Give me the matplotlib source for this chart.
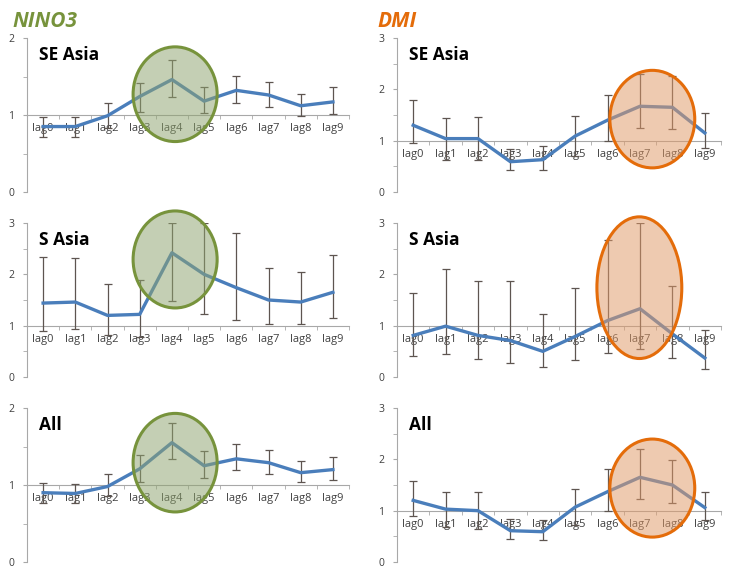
#!/usr/bin/env python3
import numpy as np
import matplotlib
matplotlib.use("Agg")
import matplotlib.pyplot as plt
from matplotlib.patches import Ellipse

lags = ["lag0", "lag1", "lag2", "lag3", "lag4", "lag5", "lag6", "lag7", "lag8", "lag9"]

# NINO3 composites: mean, upper end, lower end of error bar
nino_se_mean = [0.85, 0.85, 0.99, 1.24, 1.46, 1.18, 1.32, 1.26, 1.12, 1.17]
nino_se_hi   = [0.98, 0.98, 1.15, 1.42, 1.71, 1.37, 1.51, 1.43, 1.27, 1.36]
nino_se_lo   = [0.72, 0.72, 0.83, 1.04, 1.24, 1.03, 1.16, 1.10, 0.99, 1.01]

nino_s_mean = [1.44, 1.46, 1.20, 1.22, 2.42, 2.00, 1.74, 1.50, 1.46, 1.65]
nino_s_hi   = [2.34, 2.31, 1.81, 1.89, 3.00, 3.00, 2.80, 2.13, 2.04, 2.37]
nino_s_lo   = [0.89, 0.93, 0.81, 0.78, 1.48, 1.23, 1.12, 1.04, 1.04, 1.15]

nino_all_mean = [0.90, 0.89, 0.98, 1.21, 1.55, 1.25, 1.34, 1.29, 1.16, 1.20]
nino_all_hi   = [1.03, 1.01, 1.14, 1.39, 1.80, 1.44, 1.53, 1.45, 1.31, 1.37]
nino_all_lo   = [0.77, 0.77, 0.86, 1.04, 1.34, 1.09, 1.19, 1.14, 1.04, 1.06]

# DMI composites
dmi_se_mean = [1.30, 1.04, 1.04, 0.59, 0.63, 1.09, 1.40, 1.67, 1.65, 1.15]
dmi_se_hi   = [1.79, 1.45, 1.46, 0.84, 0.89, 1.48, 1.89, 2.30, 2.26, 1.53]
dmi_se_lo   = [0.96, 0.63, 0.62, 0.42, 0.43, 0.70, 0.99, 1.24, 1.22, 0.86]

dmi_s_mean = [0.81, 0.99, 0.81, 0.71, 0.50, 0.79, 1.10, 1.33, 0.84, 0.37]
dmi_s_hi   = [1.63, 2.10, 1.87, 1.87, 1.22, 1.74, 2.67, 3.00, 1.78, 0.92]
dmi_s_lo   = [0.40, 0.45, 0.35, 0.27, 0.20, 0.33, 0.47, 0.55, 0.37, 0.16]

dmi_all_mean = [1.20, 1.03, 1.00, 0.61, 0.59, 1.07, 1.37, 1.65, 1.50, 1.06]
dmi_all_hi   = [1.58, 1.37, 1.37, 0.84, 0.81, 1.42, 1.81, 2.20, 1.99, 1.37]
dmi_all_lo   = [0.90, 0.68, 0.64, 0.44, 0.43, 0.72, 1.00, 1.23, 1.14, 0.82]

GREEN_EDGE = "#77933C"
GREEN_FILL = "#8FA46F"
ORANGE_EDGE = "#E46C0A"
ORANGE_FILL = "#E09A68"
LINE = "#4A7EBB"
ERR = "#5E5550"
AXIS = "#A8A8A8"
FONT = "Open Sans"


def panel(ax, mean, hi, lo, ymax, label, ell, ecol, fcol):
  x = np.arange(len(lags))
  mean = np.array(mean)
  yerr = [mean - np.array(lo), np.array(hi) - mean]
  ax.errorbar(x, mean, yerr=yerr, fmt="none", ecolor=ERR, elinewidth=0.9,
              capsize=3, capthick=0.9, zorder=2)
  ax.plot(x, mean, color=LINE, lw=2.4, zorder=3)

  ax.set_xlim(-0.5, len(lags) - 0.5)
  ax.set_ylim(0, ymax)
  for s in ["top", "right"]:
    ax.spines[s].set_visible(False)
  ax.spines["bottom"].set_position(("data", 1))
  ax.spines["bottom"].set_color(AXIS)
  ax.spines["left"].set_color(AXIS)
  ax.spines["bottom"].set_zorder(1)

  ax.set_xticks(x)
  ax.set_xticklabels(lags, fontsize=8, color="#404040", family=FONT)
  ax.set_xticks(np.arange(len(lags) + 1) - 0.5, minor=True)
  ax.tick_params(axis="x", which="major", length=0, pad=6)
  ax.tick_params(axis="x", which="minor", length=3, color=AXIS, direction="out")
  for t in ax.get_xticklabels():
    t.set_zorder(1)

  ax.set_yticks(range(0, ymax + 1))
  ax.set_yticks(np.arange(0, ymax + 0.01, 0.5), minor=True)
  ax.set_yticklabels([str(v) for v in range(0, ymax + 1)], fontsize=7.5,
                     color="#404040", family=FONT)
  ax.tick_params(axis="y", which="both", length=3, color=AXIS, pad=6)

  ax.text(0.037, 0.86, label, transform=ax.transAxes, fontsize=12.5,
          fontweight="bold", family=FONT, color="black")

  cx, cy, w, h = ell
  ax.add_patch(Ellipse((cx, cy), w, h, facecolor=fcol, alpha=0.52,
                       edgecolor="none", zorder=4, clip_on=False))
  ax.add_patch(Ellipse((cx, cy), w, h, facecolor="none", edgecolor=ecol,
                       lw=2.2, zorder=5, clip_on=False))


def main():
  fig = plt.figure(figsize=(7.30, 5.69), dpi=100)

  lx, lw = 27 / 730, 322 / 730
  rx, rw = 397 / 730, 324 / 730
  h = 154 / 569
  bottoms = [1 - 192 / 569, 1 - 377 / 569, 1 - 562 / 569]

  left = [
    (nino_se_mean, nino_se_hi, nino_se_lo, 2, "SE Asia", (4.1, 1.27, 2.61, 1.23)),
    (nino_s_mean, nino_s_hi, nino_s_lo, 3, "S Asia", (4.1, 2.29, 2.61, 1.89)),
    (nino_all_mean, nino_all_hi, nino_all_lo, 2, "All", (4.1, 1.29, 2.61, 1.28)),
  ]
  right = [
    (dmi_se_mean, dmi_se_hi, dmi_se_lo, 3, "SE Asia", (7.38, 1.42, 2.62, 1.90)),
    (dmi_s_mean, dmi_s_hi, dmi_s_lo, 3, "S Asia", (6.98, 1.74, 2.62, 2.76)),
    (dmi_all_mean, dmi_all_hi, dmi_all_lo, 3, "All", (7.38, 1.44, 2.62, 1.91)),
  ]

  for b, args in zip(bottoms, left):
    ax = fig.add_axes([lx, b, lw, h])
    panel(ax, *args, GREEN_EDGE, GREEN_FILL)
  for b, args in zip(bottoms, right):
    ax = fig.add_axes([rx, b, rw, h])
    panel(ax, *args, ORANGE_EDGE, ORANGE_FILL)

  fig.text(12 / 730, 1 - 27 / 569, "NINO3", fontsize=15, fontweight="bold",
           fontstyle="italic", color=GREEN_EDGE, family=FONT)
  fig.text(377 / 730, 1 - 27 / 569, "DMI", fontsize=15, fontweight="bold",
           fontstyle="italic", color=ORANGE_EDGE, family=FONT)

  fig.savefig("out.png", dpi=100)


if __name__ == '__main__':
  main()
